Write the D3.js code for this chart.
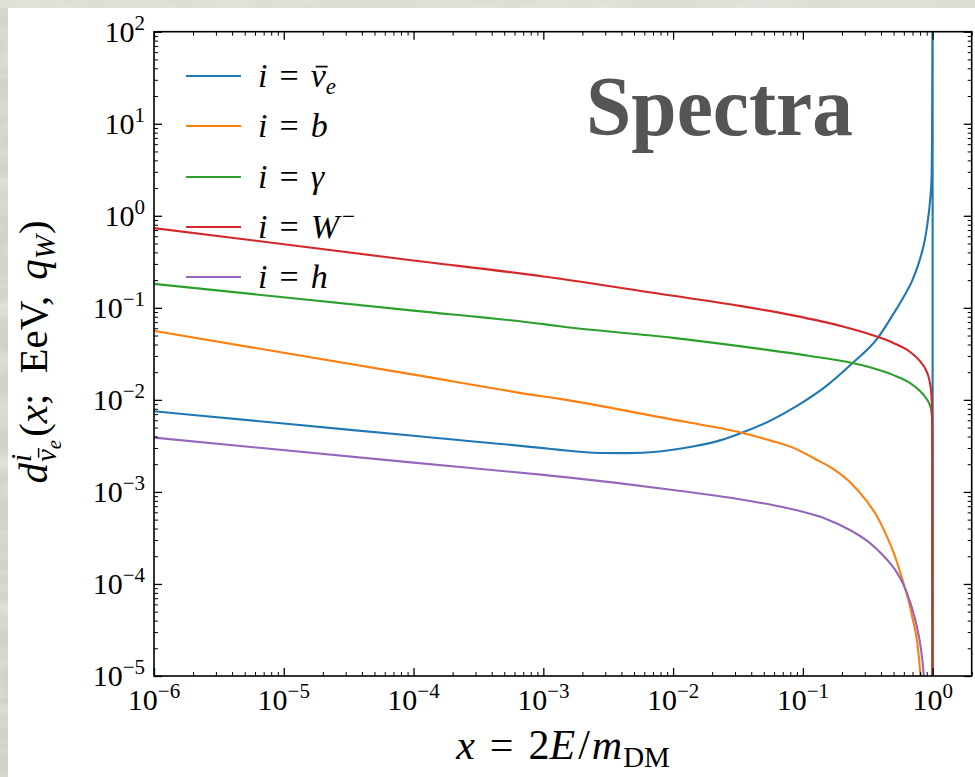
<!DOCTYPE html>
<html><head><meta charset="utf-8">
<script src="https://cdn.jsdelivr.net/npm/d3@7"></script>
<style>body{margin:0;background:#fff}svg{display:block}</style>
</head><body>
<svg id="c" width="975" height="777"></svg>
<script>
// ---------- data ----------
const seriesLabels = ["nuebar", "b", "gamma", "Wminus", "h"];
const seriesColors = ["#1f77b4", "#ff7f0e", "#2ca02c", "#d62728", "#9467bd"];

const xNuebar = [1e-6, 1e-5, 1e-4, 1e-3, 1.34e-3, 2.73e-3, 4.39e-3, 7.9e-3, 0.0142, 0.023, 0.0343, 0.0557, 0.09, 0.152, 0.2415, 0.378, 0.4935, 0.593, 0.70, 0.769, 0.821, 0.871, 0.907, 0.935, 0.96, 0.98, 0.9894, 0.9946, 0.999, 1.0, 1.0];
const yNuebar = [7.53e-3, 5.53e-3, 4.07e-3, 2.99e-3, 2.86e-3, 2.65e-3, 2.64e-3, 2.75e-3, 3.11e-3, 3.63e-3, 4.42e-3, 5.92e-3, 8.6e-3, 0.0142, 0.0251, 0.0472, 0.0839, 0.1285, 0.201, 0.286, 0.386, 0.548, 0.778, 1.08, 1.57, 2.46, 6.7, 38.6, 400, 400, 1e-7];

const xB = [1e-6, 1e-4, 1e-3, 1.34e-3, 1e-2, 0.0192, 0.0343, 0.0557, 0.09, 0.1237, 0.171, 0.230, 0.310, 0.3715, 0.442, 0.5115, 0.593, 0.6557, 0.705, 0.762, 0.807, 0.85];
const yB = [0.0562, 0.0188, 0.0109, 0.01026, 0.0061, 5.18e-3, 4.37e-3, 3.63e-3, 2.90e-3, 2.29e-3, 1.78e-3, 1.285e-3, 7.98e-4, 5.48e-4, 3.33e-4, 2.02e-4, 1.05e-4, 6.37e-5, 4.06e-5, 2.29e-5, 1e-5, 3e-6];

const xGamma = [1e-6, 1e-4, 1e-3, 1.34e-3, 1e-2, 0.0467, 0.113, 0.2415, 0.328, 0.4935, 0.667, 0.796, 0.8864, 0.943, 0.9737, 0.9894, 0.9946, 0.9999];
const yGamma = [0.182, 0.0933, 0.0665, 0.063, 0.0472, 0.0358, 0.0300, 0.0251, 0.0226, 0.0187, 0.0153, 0.01253, 0.01051, 0.00906, 0.00778, 0.00637, 3.67e-3, 1e-7];

const xW = [1e-6, 1e-4, 1e-3, 1e-2, 0.0327, 0.0838, 0.2, 0.328, 0.4935, 0.667, 0.796, 0.8864, 0.943, 0.9737, 0.9894, 0.9946, 0.9999];
const yW = [0.735, 0.327, 0.219, 0.135, 0.105, 0.0828, 0.0630, 0.0515, 0.0417, 0.0333, 0.0265, 0.0212, 0.0165, 0.01222, 0.00778, 3.67e-3, 1e-7];

const xH = [1e-6, 1e-4, 1e-3, 1.6e-3, 1e-2, 0.0391, 0.0608, 0.0948, 0.148, 0.230, 0.317, 0.416, 0.5115, 0.593, 0.667, 0.751, 0.811, 0.855, 0.9];
const yH = [3.89e-3, 2.08e-3, 1.53e-3, 1.43e-3, 1.05e-3, 7.98e-4, 7.13e-4, 6.2e-4, 5.15e-4, 3.86e-4, 2.90e-4, 2.04e-4, 1.44e-4, 1.0e-4, 6.53e-5, 3.58e-5, 2.01e-5, 1e-5, 2e-6];

const xTickValues = [1e-6, 1e-5, 1e-4, 1e-3, 1e-2, 1e-1, 1];
const xTickExponents = ["\u22126", "\u22125", "\u22124", "\u22123", "\u22122", "\u22121", "0"];
const yTickValues = [1e-5, 1e-4, 1e-3, 1e-2, 1e-1, 1, 10, 100];
const yTickExponents = ["\u22125", "\u22124", "\u22123", "\u22122", "\u22121", "0", "1", "2"];

const titleText = "Spectra";

// ---------- layout ----------
const W = 975, H = 777;
const L = 154, R = 971.7, T = 31.7, B = 676;
const FONT = "'Liberation Serif', 'Times New Roman', serif";

const svg = d3.select("#c");
const defs = svg.append("defs");

// textured grey background
const flt = defs.append("filter").attr("id", "tex").attr("x", 0).attr("y", 0).attr("width", "100%").attr("height", "100%");
flt.append("feTurbulence").attr("type", "fractalNoise").attr("baseFrequency", "0.015 0.04").attr("numOctaves", 4).attr("seed", 7).attr("result", "n");
flt.append("feColorMatrix").attr("in", "n").attr("type", "matrix")
  .attr("values", "0 0 0 0 1  0 0 0 0 1  0 0 0 0 0.97  0.9 0 0 0 -0.35");
svg.append("rect").attr("width", W).attr("height", H).attr("fill", "#d0d1c8");
svg.append("rect").attr("width", W).attr("height", H).attr("filter", "url(#tex)");
svg.append("rect").attr("x", 0).attr("y", 0).attr("width", W).attr("height", 8).attr("fill", "#e4e4de").attr("opacity", 0.6);
svg.append("rect").attr("x", 8).attr("y", 8).attr("width", W - 8).attr("height", H - 8).attr("fill", "#ffffff");

const x = d3.scaleLog().domain([1e-6, 2]).range([L, R]);
const y = d3.scaleLog().domain([1e-5, 100]).range([B, T]);

defs.append("clipPath").attr("id", "clip").append("rect")
  .attr("x", L).attr("y", T).attr("width", R - L).attr("height", B - T);

// ---------- curves ----------
const seriesX = [xNuebar, xB, xGamma, xW, xH];
const seriesY = [yNuebar, yB, yGamma, yW, yH];
const line = d3.line().x(d => x(d[0])).y(d => y(d[1])).curve(d3.curveMonotoneX);
const gLines = svg.append("g").attr("clip-path", "url(#clip)");
seriesX.forEach((xs, i) => {
  const pts = xs.map((v, j) => [v, seriesY[i][j]]);
  gLines.append("path").datum(pts).attr("d", line)
    .attr("fill", "none").attr("stroke", seriesColors[i]).attr("stroke-width", 2.1)
    .attr("stroke-linejoin", "round");
});

// ---------- title ----------
svg.append("text").attr("x", 586).attr("y", 135)
  .attr("font-family", FONT).attr("font-weight", "bold").attr("font-size", 84)
  .attr("fill", "#555555").attr("textLength", 267).attr("lengthAdjust", "spacingAndGlyphs")
  .text(titleText);

// ---------- axes / ticks (inward, all sides) ----------
function minorTicks(lo, hi) {
  const out = [];
  for (let e = Math.floor(Math.log10(lo)); e <= Math.ceil(Math.log10(hi)); e++)
    for (let k = 2; k <= 9; k++) { const v = k * Math.pow(10, e); if (v >= lo && v <= hi * 1.0001) out.push(v); }
  return out;
}
const xMinor = minorTicks(1e-6, 2), yMinor = minorTicks(1e-5, 100);
function tickAxis(axisFn, scale, vals, size, tr) {
  const g = svg.append("g").attr("transform", tr)
    .call(axisFn(scale).tickValues(vals).tickSize(-size).tickFormat(() => ""));
  g.select(".domain").remove();
  g.selectAll(".tick line").attr("stroke", "#000").attr("stroke-width", size > 5 ? 1.3 : 1.0);
  return g;
}
tickAxis(d3.axisBottom, x, xTickValues, 8, `translate(0,${B})`);
tickAxis(d3.axisBottom, x, xMinor, 4, `translate(0,${B})`);
tickAxis(d3.axisTop, x, xTickValues, 8, `translate(0,${T})`);
tickAxis(d3.axisTop, x, xMinor, 4, `translate(0,${T})`);
tickAxis(d3.axisLeft, y, yTickValues, 8, `translate(${L},0)`);
tickAxis(d3.axisLeft, y, yMinor, 4, `translate(${L},0)`);
tickAxis(d3.axisRight, y, yTickValues, 8, `translate(${R},0)`);
tickAxis(d3.axisRight, y, yMinor, 4, `translate(${R},0)`);

svg.append("rect").attr("x", L).attr("y", T).attr("width", R - L).attr("height", B - T)
  .attr("fill", "none").attr("stroke", "#000").attr("stroke-width", 1.6);

// tick labels
function powLabel(g, exp) {
  g.append("tspan").text("10");
  g.append("tspan").attr("font-size", 21).attr("dy", -12).text(exp);
}
xTickValues.forEach((v, i) => {
  const t = svg.append("text").attr("x", x(v)).attr("y", 710).attr("text-anchor", "middle")
    .attr("font-family", FONT).attr("font-size", 30).attr("fill", "#000");
  powLabel(t, xTickExponents[i]);
});
yTickValues.forEach((v, i) => {
  const t = svg.append("text").attr("x", 145).attr("y", y(v) + 10).attr("text-anchor", "end")
    .attr("font-family", FONT).attr("font-size", 30).attr("fill", "#000");
  powLabel(t, yTickExponents[i]);
});

// rich text helper; segments with bar:1 get a macron drawn over them
function rich(parent, t, segs, baseSize, baseY) {
  let off = 0;
  const bars = [];
  segs.forEach(s => {
    const ts = t.append("tspan").text(s.t);
    if (s.it) ts.attr("font-style", "italic");
    if (s.size) ts.attr("font-size", s.size);
    if (s.dy) { ts.attr("dy", s.dy); off += s.dy; }
    if (s.dx) ts.attr("dx", s.dx);
    if (s.bar) bars.push({node: ts.node(), base: baseY + off, size: s.size || baseSize});
  });
  bars.forEach(b => {
    const bb = b.node.getBBox();
    const yb = b.base - 0.60 * b.size;
    parent.append("line").attr("x1", bb.x + 0.22 * bb.width + 1.5).attr("x2", bb.x + bb.width + 1)
      .attr("y1", yb).attr("y2", yb).attr("stroke", "#000").attr("stroke-width", Math.max(1.2, b.size * 0.05));
  });
}

// axis labels
const xl = svg.append("text").attr("x", 563).attr("y", 759).attr("text-anchor", "middle")
  .attr("font-family", FONT).attr("font-size", 42).attr("fill", "#000");
rich(svg, xl, [
  {t: "x", it: 1}, {t: "=", dx: 15}, {t: "2", dx: 15}, {t: "E", it: 1}, {t: "/", dx: 3}, {t: "m", it: 1, dx: 2},
  {t: "DM", size: 29, dy: 8, dx: 1}
], 42, 759);

const ylg = svg.append("g").attr("transform", "translate(47,352) rotate(-90)");
const yl = ylg.append("text").attr("text-anchor", "middle")
  .attr("font-family", FONT).attr("font-size", 41).attr("fill", "#000");
rich(ylg, yl, [
  {t: "d", it: 1}, {t: "i", it: 1, size: 29, dy: -16, dx: 1},
  {t: "\u03BD", it: 1, size: 29, dy: 25, dx: -8, bar: 1}, {t: "e", it: 1, size: 21, dy: 5},
  {t: "(", dy: -14, dx: 3}, {t: "x", it: 1}, {t: ";"}, {t: "EeV", dx: 20}, {t: ","}, {t: "q", it: 1, dx: 16},
  {t: "W", it: 1, size: 29, dy: 8}, {t: ")", dy: -8, dx: 1}
], 41, 0);

// legend
const legendTexts = [
  [{t: "i", it: 1}, {t: "=", dx: 12}, {t: "\u03BD", it: 1, dx: 12, bar: 1}, {t: "e", it: 1, size: 23, dy: 7}],
  [{t: "i", it: 1}, {t: "=", dx: 12}, {t: "b", it: 1, dx: 12}],
  [{t: "i", it: 1}, {t: "=", dx: 12}, {t: "\u03B3", it: 1, dx: 12}],
  [{t: "i", it: 1}, {t: "=", dx: 12}, {t: "W", it: 1, dx: 12}, {t: "\u2212", size: 23, dy: -14, dx: 3}],
  [{t: "i", it: 1}, {t: "=", dx: 12}, {t: "h", it: 1, dx: 12}]
];
const legendRowY = [76, 126, 177, 227, 277];
legendTexts.forEach((segs, i) => {
  svg.append("line").attr("x1", 186).attr("x2", 241).attr("y1", legendRowY[i]).attr("y2", legendRowY[i])
    .attr("stroke", seriesColors[i]).attr("stroke-width", 2.1);
  const t = svg.append("text").attr("x", 258).attr("y", legendRowY[i] + 11)
    .attr("font-family", FONT).attr("font-size", 34).attr("fill", "#000");
  rich(svg, t, segs, 34, legendRowY[i] + 11);
});
</script>
</body></html>
